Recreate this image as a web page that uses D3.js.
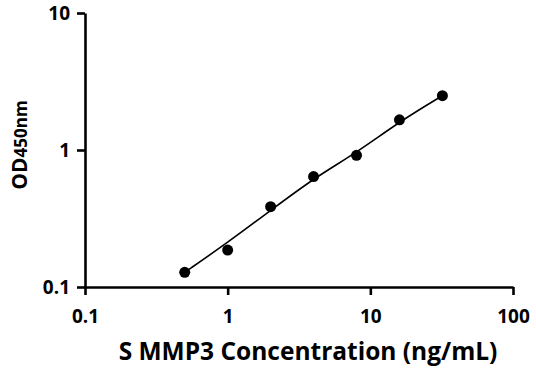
<!DOCTYPE html>
<html>
<head>
<meta charset="utf-8">
<script src="https://cdn.jsdelivr.net/npm/d3@7"></script>
<style>
  body { margin: 0; background: #fff; }
  text { font-family: "Open Sans", sans-serif; font-weight: 700; fill: #000; }
</style>
</head>
<body>
<div id="chart"></div>
<script>
// data
var concentrations = [0.5, 1, 2, 4, 8, 16, 32];
var odValues = [0.128, 0.186, 0.386, 0.64, 0.915, 1.66, 2.49];
var fitValues = [0.128, 0.211, 0.362, 0.62, 0.955, 1.61, 2.49];
var xTicks = [0.1, 1, 10, 100];
var yTicks = [0.1, 1, 10];

var margin = {top: 13, right: 23, bottom: 84, left: 85},
    width = 536 - margin.left - margin.right,
    height = 371 - margin.top - margin.bottom;

var svg = d3.select("#chart")
  .append("svg")
    .attr("width", 536)
    .attr("height", 371)
  .append("g")
    .attr("transform", "translate(" + margin.left + "," + margin.top + ")");

var x = d3.scaleLog()
  .domain([0.1, 100])
  .range([0, width]);

var y = d3.scaleLog()
  .domain([0.1, 10])
  .range([height, 0]);

var fmt = function(d) { return String(d); };

// X axis
var gx = svg.append("g")
  .attr("transform", "translate(0," + height + ")")
  .call(d3.axisBottom(x).tickValues(xTicks).tickFormat(fmt).tickSize(8).tickSizeOuter(0));

// Y axis
var gy = svg.append("g")
  .call(d3.axisLeft(y).tickValues(yTicks).tickFormat(fmt).tickSize(8).tickSizeOuter(0));

[gx, gy].forEach(function(g) {
  g.attr("font-size", null).attr("font-family", null);
  g.select(".domain").attr("stroke", "#000").attr("stroke-width", 2.6);
  g.selectAll(".tick line").attr("stroke", "#000").attr("stroke-width", 2.6);
  g.selectAll(".tick text").style("font-size", "19px");
});
gx.selectAll(".tick text").attr("dy", null).attr("y", 36);
gy.selectAll(".tick text").attr("x", -15).attr("dy", "0.36em");

// fit line
var line = d3.line()
  .x(function(d, i) { return x(concentrations[i]); })
  .y(function(d) { return y(d); })
  .curve(d3.curveBasis);

svg.append("path")
  .datum(fitValues)
  .attr("fill", "none")
  .attr("stroke", "#000")
  .attr("stroke-width", 1.6)
  .attr("d", line);

// dots
svg.append("g")
  .selectAll("circle")
  .data(odValues)
  .enter()
  .append("circle")
    .attr("cx", function(d, i) { return x(concentrations[i]); })
    .attr("cy", function(d) { return y(d); })
    .attr("r", 5.5)
    .style("fill", "#000");

// axis titles
svg.append("text")
  .attr("x", 308 - margin.left)
  .attr("y", 359.5 - margin.top)
  .attr("text-anchor", "middle")
  .style("font-size", "24.5px")
  .text("S MMP3 Concentration (ng/mL)");

var ylab = svg.append("text")
  .attr("transform", "translate(" + (27 - margin.left) + "," + (145 - margin.top) + ") rotate(-90)")
  .attr("text-anchor", "middle");
ylab.append("tspan").style("font-size", "21px").text("OD");
ylab.append("tspan").style("font-size", "17px").text("450nm");
</script>
</body>
</html>
